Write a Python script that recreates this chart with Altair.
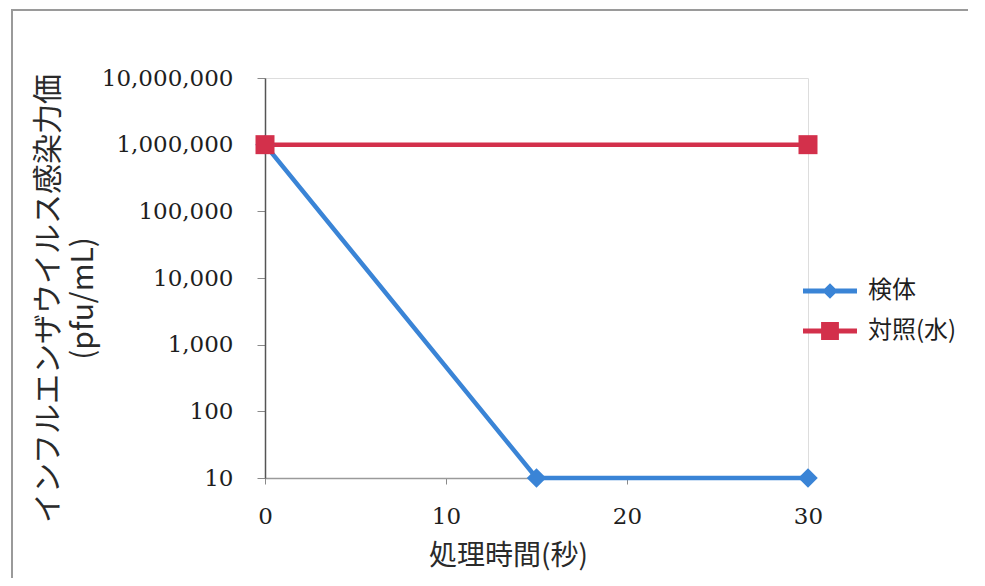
import altair as alt
import pandas as pd

# ---- data ----
series_names = ["検体", "対照(水)"]
series_colors = ["#3a84d6", "#d3304b"]
sample_time = [0, 15, 30]
sample_value = [1000000, 10, 10]
control_time = [0, 30]
control_value = [1000000, 1000000]
x_ticks = [0, 10, 20, 30]
y_ticks = [10, 100, 1000, 10000, 100000, 1000000, 10000000]
y_title = ["インフルエンザウイルス感染力価", "(pfu/mL)"]
x_title = "処理時間(秒)"

rows = []
for t, v in zip(sample_time, sample_value):
    rows.append({"time": t, "value": v, "series": series_names[0]})
for t, v in zip(control_time, control_value):
    rows.append({"time": t, "value": v, "series": series_names[1]})
df = pd.DataFrame(rows)

legend_paths = [
    "M-1,-0.09L1,-0.09L1,0.09L-1,0.09Z M0,-0.29L0.29,0L0,0.29L-0.29,0Z",
    "M-1,-0.09L1,-0.09L1,0.09L-1,0.09Z M-0.33,-0.33L0.33,-0.33L0.33,0.33L-0.33,0.33Z",
]

serif = "DejaVu Serif"
jp = "Noto Sans CJK JP"

x_enc = alt.X(
    "time:Q",
    scale=alt.Scale(domain=[0, 30], nice=False, zero=False),
    axis=alt.Axis(
        values=x_ticks, title=x_title, grid=False, labelFlush=False,
        labelFont=serif, labelFontSize=23, labelColor="#1e1e1e", labelPadding=21,
        tickSize=6, tickColor="#8a8a8a", domainColor="#9a9a9a", domainWidth=1.5,
        titleFont=jp, titleFontSize=28, titleFontWeight="normal", titleColor="#2a2a2a",
        titleX=243, titleY=78, titleAlign="center", titleBaseline="middle",
    ),
)
y_enc = alt.Y(
    "value:Q",
    scale=alt.Scale(type="log", domain=[10, 10000000], nice=False),
    axis=alt.Axis(
        values=y_ticks, format=",", title=y_title, grid=False, labelFlush=False,
        labelFont=serif, labelFontSize=23, labelColor="#1e1e1e", labelPadding=24,
        tickSize=8, tickColor="#8a8a8a", domainColor="#555555", domainWidth=1.5,
        titleFont=jp, titleFontSize=30, titleFontWeight="normal", titleColor="#2a2a2a",
        titleX=-208, titleY=220, titleAngle=270, titleAlign="center",
        titleBaseline="alphabetic", titleLineHeight=35,
    ),
)

color_nolegend = alt.Color("series:N", scale=alt.Scale(domain=series_names, range=series_colors), legend=None)

lines = alt.Chart(df).mark_line(strokeWidth=4.5).encode(x=x_enc, y=y_enc, color=color_nolegend)

points = alt.Chart(df).mark_point(filled=True, opacity=1).encode(
    x=x_enc, y=y_enc, color=color_nolegend,
    shape=alt.Shape("series:N", scale=alt.Scale(domain=series_names, range=["diamond", "square"]), legend=None),
    size=alt.Size("series:N", scale=alt.Scale(domain=series_names, range=[380, 361]), legend=None),
)

legend_props = dict(
    title=None, orient="none", legendX=538, legendY=186, padding=0,
    rowPadding=1, symbolSize=2916, symbolStrokeWidth=0, symbolOpacity=1,
    labelFont=jp, labelFontSize=24, labelColor="#1e1e1e", labelOffset=11,
)

legend_layer = alt.Chart(df).mark_point(filled=True, opacity=0).encode(
    x=x_enc, y=y_enc,
    color=alt.Color(
        "series:N", scale=alt.Scale(domain=series_names, range=series_colors),
        legend=alt.Legend(**legend_props),
    ),
    shape=alt.Shape(
        "series:N", scale=alt.Scale(domain=series_names, range=legend_paths),
        legend=alt.Legend(**legend_props),
    ),
)

frame = alt.Chart(alt.Data(values=[{"a": 1}])).mark_rect(
    fillOpacity=0, stroke="#9a9a9a", strokeWidth=2
).encode(
    x=alt.value(-253), x2=alt.value(900), y=alt.value(-68), y2=alt.value(700)
)

chart = (
    alt.layer(frame, lines, points, legend_layer)
    .resolve_scale(color="independent", shape="independent", size="independent")
    .properties(
        width=543, height=400,
        autosize=alt.AutoSizeParams(type="none"),
        padding={"left": 257, "top": 70, "right": 160, "bottom": 100},
    )
    .configure_view(stroke=None)
    .configure(background="white")
)

chart.save("out.html", embed_options={"renderer": "svg", "actions": False})
